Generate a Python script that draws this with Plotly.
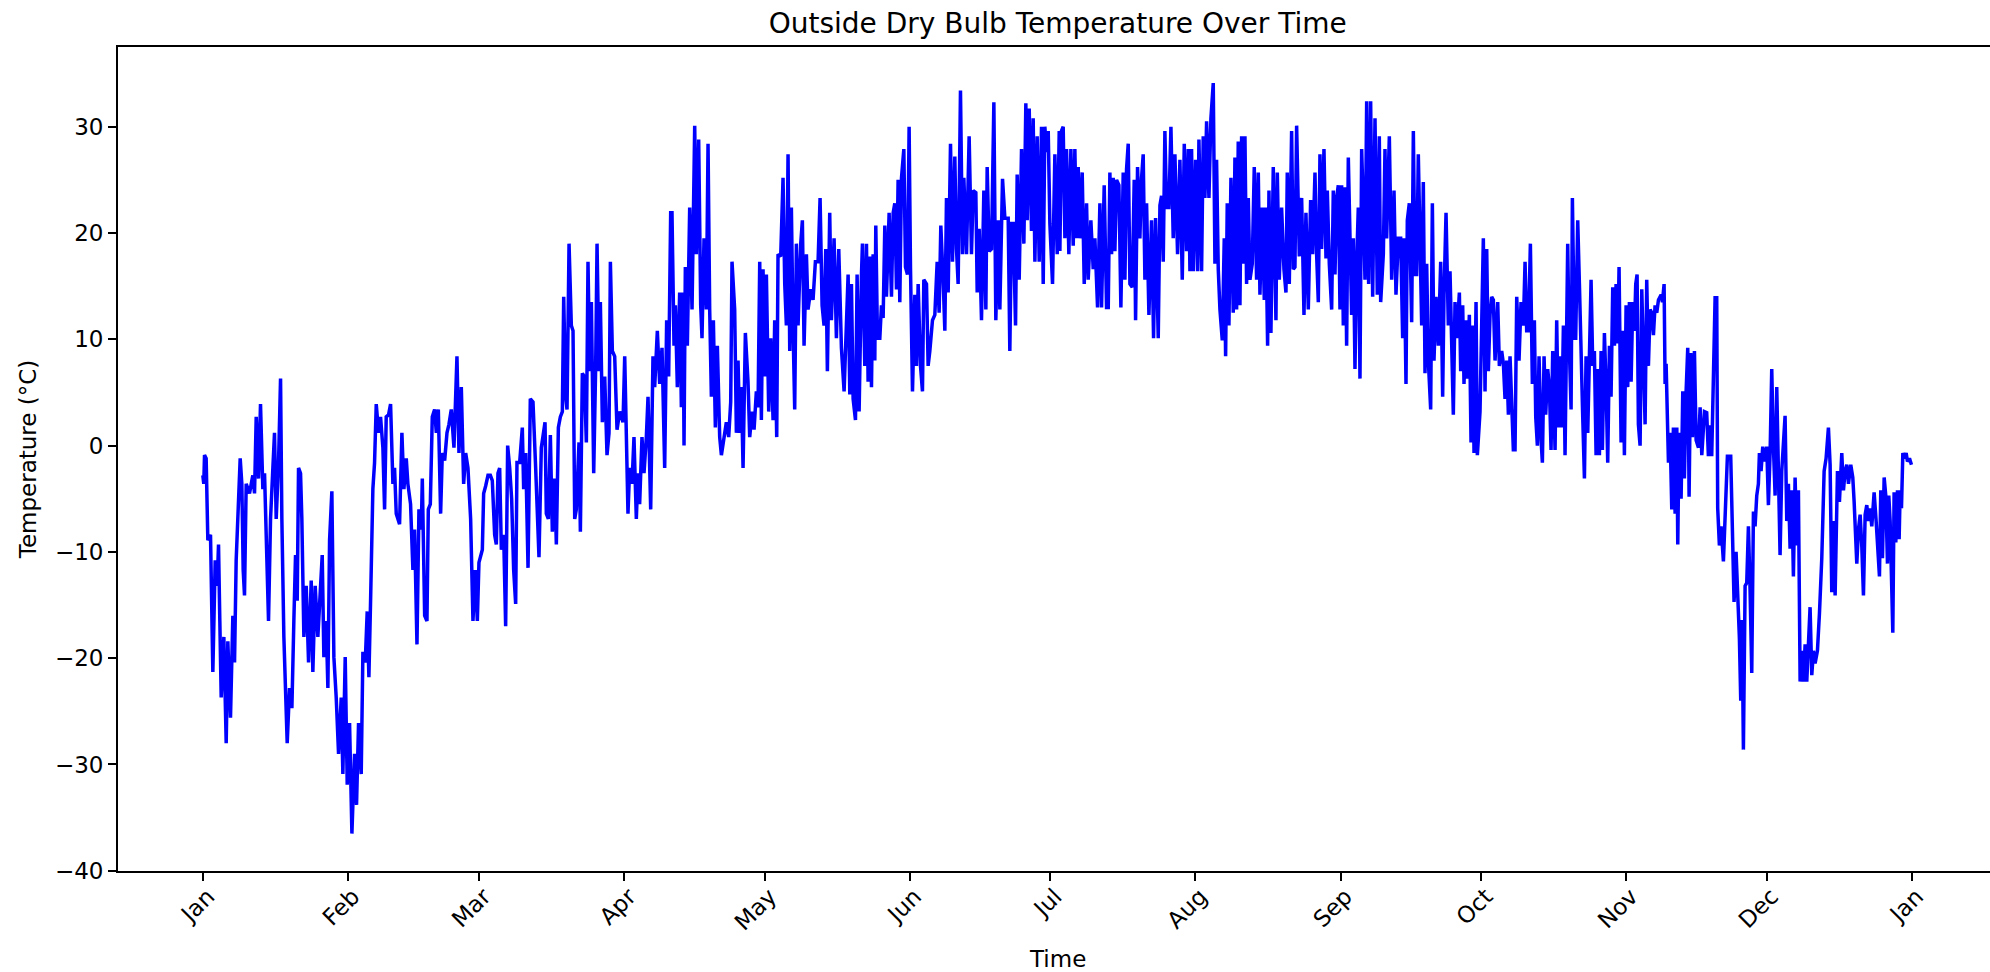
import pandas as pd
import plotly.graph_objects as go

# ---------------- data (day offset from 2023-01-01, temperature in °C) ----------------
YEAR_START = "2023-01-01"

jan_feb_days = [0.0, 0.2, 0.36, 0.71, 1.07, 1.64, 2.14, 2.64, 3.06, 3.35, 3.63, 3.92, 4.49, 4.99, 5.34, 5.91,
                6.41, 6.77, 7.12, 7.48, 7.98, 8.33, 8.62, 8.9, 9.26, 9.97, 10.68, 11.04, 11.4, 11.9, 12.32,
                12.82, 13.18, 14.03, 14.46, 14.96, 15.31, 15.67, 16.17, 16.6, 16.88, 17.31, 18.02, 18.52,
                19.02, 19.44, 19.8, 20.16, 20.44, 20.87, 21.15, 21.58, 22.08, 22.58, 23.15, 23.5, 24.0,
                24.57, 25.14, 25.5, 25.85, 26.35, 26.71, 27.07, 27.56, 27.99, 28.49, 28.99, 29.56, 29.91,
                30.41, 30.84, 31.34, 31.84, 32.41, 32.83, 33.26, 33.83, 34.19, 34.69, 35.11, 35.47, 35.83,
                36.32, 36.68, 37.04, 37.54, 37.96, 38.46, 38.82, 39.17, 39.67, 40.1, 40.6, 40.95, 41.31,
                42.02, 42.52, 42.95, 43.45, 43.8, 44.37, 44.87, 45.23]
jan_feb_temp = [-2.8, -3.6, -0.9, -1.2, -8.9, -8.4, -21.3, -10.8, -13.2, -9.3, -16.5, -23.7, -18, -28, -18.4,
                -25.6, -16, -20.4, -10.8, -6.4, -1.2, -3.6, -11.7, -14.1, -3.6, -4.5, -2.8, -4.5, 2.7, -3.1,
                3.9, -4.1, -2.6, -16.5, -6.9, -2.1, 1.2, -6.9, -1.6, 6.3, -6.9, -18, -28, -22.8, -24.7, -16.5,
                -10.3, -14.6, -2.1, -2.6, -6.9, -18, -13.2, -20.4, -12.7, -21.3, -13.2, -18, -13.6, -10.3,
                -19.9, -16.5, -22.8, -8.9, -4.3, -19.9, -23.7, -29, -23.7, -30.9, -19.9, -31.9, -26.1, -36.5,
                -29, -33.8, -26.1, -30.9, -19.4, -20.4, -15.6, -21.8, -14.6, -4.1, -1.6, 3.9, 1.2, 2.7, -0.2,
                -6, 2.7, 2.9, 3.9, -3.6, -2.1, -6.4, -7.4, 1.2, -4.1, -1.2, -3.6, -5.5, -11.7, -7.9]

feb_mar_days = [45.74, 46.16, 46.66, 46.88, 47.38, 47.87, 48.16, 48.59, 49.01, 49.51, 49.87, 50.3, 50.79, 51.15,
                51.65, 52.15, 52.57, 53.07, 53.64, 54.28, 54.71, 55.21, 55.71, 56.14, 56.63, 57.2, 57.7, 58.2,
                58.63, 58.98, 59.7, 59.98, 60.41, 60.91, 61.41, 61.83, 62.33, 62.69, 63.04, 63.4, 63.76, 64.26,
                64.68, 65.11, 65.54, 65.96, 66.39, 66.82, 67.1, 67.67, 68.24, 68.53, 68.96, 69.46, 69.95,
                70.52, 71.09, 71.8, 72.3, 72.66, 73.09, 73.37, 73.8, 74.23, 74.65, 75.15, 75.51, 75.94, 76.36,
                76.79, 77.08, 77.5, 77.79, 78.22, 78.71, 79.07, 79.43, 79.78, 80.35, 80.64, 81.06, 81.49,
                81.92, 82.27, 82.63, 82.99, 83.49, 83.91, 84.2, 84.63, 84.91, 85.34, 85.84, 86.33, 86.76,
                87.05, 87.47, 87.97, 88.47, 89.04, 89.75, 90.11]
feb_mar_temp = [-18.7, -6, -7.9, -3.1, -16, -16.5, -6, -5.5, 2.7, 3.4, 1.2, 3.4, -6.4, -0.7, -1.4, 1.2, 2,
                3.4, -0.2, 8.4, -0.7, 5.5, -3.6, -0.7, -2.1, -6.9, -16.5, -11.7, -16.5, -11, -9.8, -4.5, -3.8,
                -2.8, -2.8, -3.3, -8.4, -9.3, -2.6, -2.1, -9.8, -8.4, -17, 0, -2.1, -5, -11.7, -14.9, -1.6,
                -1.6, 1.7, -4.1, -0.7, -11.5, 4.4, 4.1, -2.1, -10.5, -0.2, 0.8, 2.2, -6.4, -6.9, 1, -8.1, -3.1,
                -9.3, 1.7, 2.7, 3.2, 14, 4.6, 3.4, 19, 11.3, 10.8, -6.9, -6, 0.3, -8.1, 6.8, 6.5, 0.3, 17.3, 7,
                13.5, -2.6, 7.5, 19, 7, 13.5, 2.2, 6.5, -0.9, 1.2, 17.3, 8.9, 8.4, 1.5, 3.2, 2.2, 8.4]

apr_may_days = [90.81, 91.17, 91.67, 92.09, 92.59, 92.95, 93.3, 93.8, 94.23, 94.73, 95.09, 95.66, 96.15, 96.51,
                97.08, 97.58, 98.08, 98.65, 99.07, 99.5, 99.93, 100.21, 100.64, 100.93, 101.35, 101.85, 102.21,
                102.56, 102.78, 103.06, 103.49, 103.99, 104.49, 105.06, 105.41, 105.91, 106.34, 106.62, 107.05,
                107.55, 107.91, 108.26, 108.62, 109.05, 109.47, 109.9, 110.4, 110.76, 111.32, 111.82, 112.32,
                112.75, 113.03, 113.6, 113.96, 114.32, 114.67, 115.03, 115.39, 115.88, 116.45, 116.81, 117.31,
                117.74, 118.23, 118.59, 118.95, 119.3, 119.66, 120.01, 120.37, 120.87, 121.3, 121.8, 122.15,
                122.58, 122.86, 123.43, 123.93, 124.29, 124.64, 125.0, 125.36, 125.71, 126.07, 126.42, 126.78,
                127.14, 127.71, 128.06, 128.42, 128.92, 129.27, 129.84, 130.34, 130.84, 131.41, 131.84, 132.27,
                132.69, 133.05, 133.4, 133.9, 134.26, 134.83, 135.33, 135.83, 136.4, 136.97]
apr_may_temp = [-6.4, -2.1, -3.6, 0.8, -6.9, -2.6, -5.5, 0.8, -2.6, 0.8, 4.6, -6, 8.4, 5.5, 10.8, 5.8, 9.2,
                -2.1, 11.8, 6.5, 21.9, 21.9, 9.4, 13.2, 5.5, 14.4, 3.6, 14.4, 0, 16.8, 9.4, 22.4, 12.8, 30.1, 18,
                28.8, 13.2, 10.1, 19.5, 12.8, 28.4, 12.8, 4.6, 11.8, 1.7, 9.4, 0.8, -0.9, 0.8, 2.2, 0.8, 4.1,
                17.3, 12.8, 1.2, 8, 1.2, 5.5, -2.1, 10.6, 6, 0.8, 3.2, 1.5, 5.1, 3.6, 17.3, 2.4, 16.6, 6.5,
                16.1, 3.2, 10.1, 2.4, 11.8, 0.8, 18, 17.8, 25.2, 15.2, 11.3, 27.4, 8.9, 22.4, 11.1, 3.4, 19,
                11.3, 19, 21.2, 9.4, 18, 12.8, 14.7, 13.7, 17.3, 17.3, 23.3, 13.2, 11.3, 18.5, 7, 21.9, 11.8,
                19.5, 10.1, 18.5, 9.2, 5.1]

may_jun_days = [137.47, 137.83, 138.19, 138.54, 138.9, 139.4, 139.75, 140.18, 140.68, 140.89, 141.39, 141.75,
                142.1, 142.46, 142.82, 143.17, 143.53, 143.74, 144.1, 144.6, 144.95, 145.31, 145.67, 146.02,
                146.59, 147.09, 147.45, 147.8, 148.16, 148.51, 148.87, 149.23, 149.73, 150.08, 150.51, 150.86,
                151.15, 151.58, 152.08, 152.43, 152.79, 153.29, 153.71, 154.0, 154.57, 154.92, 155.28, 155.85,
                156.35, 156.85, 157.27, 157.63, 158.13, 158.49, 158.84, 159.2, 159.7, 160.12, 160.62, 160.98,
                161.33, 161.83, 162.26, 162.55, 163.12, 163.68, 164.18, 164.54, 165.11, 165.4, 165.82, 166.32,
                166.82, 167.25, 167.53, 167.96, 168.46, 168.96, 169.38, 169.88, 170.24, 170.81, 171.31, 172.02,
                172.37, 172.73, 173.09, 173.59, 173.94, 174.37, 174.87, 175.37, 175.79, 176.08, 176.51, 177.0,
                177.36, 177.72, 178.21, 178.64, 179.14, 179.5, 179.85, 180.21, 180.57, 180.92, 181.49, 181.99,
                182.49, 182.92]
may_jun_temp = [11.3, 16.1, 4.8, 15.2, 4.4, 2.4, 16.1, 3.2, 16.1, 19, 7.5, 19, 6, 17.8, 5.5, 18, 8, 20.7, 10.1,
                10.1, 13.2, 12, 20.7, 14, 21.9, 14, 21.9, 22.8, 14.7, 25, 13.5, 25.2, 27.9, 16.8, 16.1, 30, 16.8,
                5.1, 14.2, 7.5, 15.2, 7.5, 5.1, 15.6, 15.2, 7.5, 8.9, 11.8, 12.3, 17.3, 12.5, 20.7, 15.6, 10.8,
                23.3, 14.4, 28.4, 17.3, 27.2, 18.5, 15.2, 33.4, 18, 25.2, 18, 29.1, 18, 24, 23.8, 14.4, 20.4,
                11.8, 24, 12.8, 26.2, 18.3, 18.5, 32.3, 11.8, 21.2, 12.8, 25.1, 21.4, 21.4, 8.9, 20.9, 20.9,
                11.3, 25.5, 15.6, 27.9, 19, 32.2, 21.2, 31.7, 20.2, 30.8, 17.3, 29.1, 17.3, 30, 15.2, 30, 27.6,
                29.6, 20.9, 15.2, 27.4, 18, 29.6]

jul_aug_days = [183.06, 183.41, 183.77, 184.13, 184.48, 184.98, 185.41, 185.91, 186.26, 186.62, 186.98, 187.33,
                187.83, 188.26, 188.76, 189.11, 189.68, 190.18, 190.54, 191.11, 191.61, 191.96, 192.53, 193.03,
                193.39, 193.74, 194.1, 194.45, 194.81, 195.17, 195.67, 196.09, 196.59, 196.95, 197.3, 197.66,
                198.02, 198.51, 198.94, 199.23, 199.65, 200.15, 200.51, 200.86, 201.22, 201.58, 202.08, 202.64,
                203.07, 203.5, 204.07, 204.43, 204.78, 205.14, 205.49, 205.85, 206.35, 206.78, 207.27, 207.63,
                208.2, 208.7, 209.2, 209.63, 210.12, 210.48, 210.84, 211.19, 211.55, 212.05, 212.47, 212.76,
                213.33, 213.68, 214.04, 214.4, 214.9, 215.32, 215.82, 216.18, 216.53, 216.89, 217.25, 217.75,
                218.17, 218.46, 218.81, 219.17, 219.6, 220.09, 220.45, 220.81, 221.16, 221.52, 221.88, 222.23,
                222.59, 222.94, 223.3, 223.66, 224.15, 224.58, 225.08, 225.44, 225.79, 226.29, 226.72, 227.0,
                227.43, 227.72, 228.14, 228.64]
jul_aug_temp = [18.3, 29.6, 30, 19.5, 27.9, 18, 27.9, 18.8, 27.9, 19.5, 26.2, 19.5, 25.7, 15.2, 22.8, 15.6, 21.2,
                16.6, 19.5, 13, 22.8, 13, 24.5, 13, 13, 25.7, 18, 25.2, 18.3, 25, 24.5, 13, 25.7, 15.6, 26, 28.4,
                15.2, 14.9, 25, 11.8, 26.2, 19.5, 25.2, 27.4, 15.6, 22.8, 12.3, 21.2, 10.1, 21.4, 10.1, 22.6,
                23.5, 17.3, 29.6, 22.4, 22.4, 30, 19.5, 27.4, 18, 26.9, 15.6, 28.4, 18.3, 27.9, 16.4, 27.9, 16.4,
                26.9, 16.4, 28.8, 16.4, 29.1, 23.3, 30.5, 23.3, 30.8, 34.1, 17.1, 26.9, 16.6, 12.8, 9.9, 19.5,
                8.4, 22.8, 11.3, 25.2, 12.5, 27.1, 12.8, 28.6, 13.2, 29.1, 17.1, 29.1, 15.2, 23.3, 15.6, 17.1,
                26.2, 15.6, 25.7, 14.2, 22.4, 13.7, 22.4, 9.4, 24, 10.6, 26.2]

aug_sep_days = [229.21, 229.5, 229.92, 230.42, 230.92, 231.35, 231.63, 232.06, 232.56, 232.92, 233.27, 233.63,
                234.2, 234.7, 235.2, 235.62, 236.12, 236.62, 237.05, 237.55, 237.9, 238.26, 238.61, 238.97,
                239.47, 239.9, 240.18, 240.61, 241.11, 241.46, 241.82, 242.17, 242.53, 242.89, 243.24, 243.6,
                243.96, 244.31, 244.67, 245.02, 245.38, 245.74, 246.09, 246.45, 246.8, 247.16, 247.52, 247.87,
                248.23, 248.59, 249.01, 249.44, 249.87, 250.37, 250.86, 251.29, 251.58, 252.15, 252.5, 252.86,
                253.43, 253.93, 254.43, 254.85, 255.35, 255.85, 256.28, 256.56, 256.99, 257.27, 257.7, 258.2,
                258.56, 258.91, 259.27, 259.62, 259.98, 260.34, 260.69, 261.05, 261.41, 261.76, 262.26, 262.62,
                262.97, 263.4, 263.9, 264.4, 264.82, 265.11, 265.54, 266.03, 266.39, 266.75, 267.1, 267.46,
                267.82, 268.39, 268.67, 269.1, 269.38, 269.81, 270.1, 270.52, 270.88, 271.23, 271.52, 271.95,
                272.23, 272.8, 273.16, 273.51, 273.87, 274.23, 274.58, 274.94]
aug_sep_temp = [11.8, 25.7, 15.6, 22.4, 16.6, 14.4, 25.7, 15.2, 29.6, 16.6, 16.8, 30.1, 17.8, 23.3, 12.3, 21.9,
                12.8, 23.1, 18, 25.7, 18, 13.5, 27.4, 18.5, 27.9, 17.6, 24, 17.1, 12.8, 24, 16.1, 23.3, 24.5,
                12.8, 24.5, 11.3, 24.3, 9.4, 27.1, 19.5, 12.3, 19.5, 7.2, 17.1, 22.4, 6.3, 27.9, 22.4, 15.6,
                32.4, 15.2, 32.4, 14, 30.8, 14.2, 29.1, 13.5, 18, 27.9, 19.5, 29.1, 15.6, 24, 14.2, 19.5, 19.5,
                10.1, 19.5, 5.8, 21.2, 22.8, 11.6, 29.6, 16.1, 16.1, 27.4, 16.8, 11.3, 24.8, 6.8, 17.1, 8, 3.4,
                22.8, 8, 14, 9.4, 17.3, 4.6, 14.2, 21.9, 11.3, 16.4, 8.4, 2.9, 13.5, 10.1, 14.4, 7, 13.2, 5.8,
                11.8, 6.3, 12.3, 0.3, 11.3, -0.7, 13.5, -0.9, 3.2, 11.3, 19.5, 5.1, 18.5, 7, 12.3]

oct_nov_days = [275.29, 275.65, 276.01, 276.58, 276.93, 277.43, 277.79, 278.14, 278.5, 278.86, 279.21, 279.57,
                279.92, 280.28, 280.64, 281.13, 281.56, 282.06, 282.42, 282.77, 283.13, 283.56, 283.98, 284.41,
                284.7, 285.05, 285.41, 285.84, 286.12, 286.48, 286.83, 287.26, 287.62, 287.97, 288.33, 288.83,
                289.18, 289.54, 289.9, 290.25, 290.61, 290.96, 291.32, 291.53, 291.82, 292.25, 292.53, 292.96,
                293.24, 293.67, 294.03, 294.38, 294.74, 295.1, 295.45, 295.81, 296.16, 296.52, 296.88, 297.23,
                297.59, 297.94, 298.3, 298.66, 298.94, 299.37, 299.73, 300.08, 300.44, 300.79, 301.15, 301.51,
                301.86, 302.22, 302.5, 302.93, 303.29, 303.64, 304.0, 304.35, 304.71, 305.07, 305.42, 305.78,
                306.06, 306.35, 306.63, 306.99, 307.35, 307.7, 308.06, 308.41, 308.77, 309.13, 309.48, 309.84,
                310.19, 310.55, 310.91, 311.48, 311.76, 312.12, 312.33, 312.55, 312.83, 313.05, 313.4, 313.76,
                314.11, 314.47, 314.83, 315.04, 315.32, 315.75, 316.11, 316.46, 316.82, 317.17, 317.46, 317.82,
                318.17, 318.6, 318.96, 319.46, 319.81, 320.17, 320.74]
oct_nov_temp = [14, 13.7, 8, 13.5, 7.5, 8.9, 7.7, 4.4, 8, 2.9, 8.4, 3.2, -0.4, -0.4, 14, 8, 13.5, 11.3, 17.3, 10.8,
                10.8, 19, 5.8, 11.8, 2.7, 0, 8.4, 0.5, -1.6, 8.4, 2.9, 7.2, 5.5, -0.4, 8.9, -0.4, 11.8, 1.7, 8.4,
                1.7, 11.3, -0.9, 8.7, 19, 10.1, 3.4, 23.3, 10.1, 10.1, 21.2, 15.2, 7, 2.7, -3.1, 8.4, 1.2, 7.5,
                15.6, 7.5, 8.9, -0.9, 7.2, -0.9, 8.9, -0.4, 10.6, 5.5, -1.6, 9.4, 4.6, 14.9, 9.4, 15.2, 9.6, 16.8,
                0.3, 10.8, -0.9, 13.2, 5.5, 13.5, 6, 13.5, 10.8, 15.2, 16.1, 2, 0, 14.7, 7.5, 2, 15.6, 7.5, 12.8,
                12.5, 10.4, 13.2, 12.5, 13.7, 14.2, 13.5, 15.2, 5.8, 7.7, 1.2, -1.6, 1.2, -6, 1.7, -6.4, 1.7,
                -9.3, 1.2, -5, 5.1, -3.1, 5.1, 9.2, -4.8, 8.7, 0.8, 8.9, 0.5, -0.2, 3.6, -0.9, 3.2]

nov_dec_days = [321.22, 321.58, 321.94, 322.29, 322.65, 323.01, 323.36, 323.57, 323.93, 324.29, 324.79, 325.14,
                325.64, 326.35, 326.78, 327.06, 327.49, 327.78, 328.2, 328.49, 328.77, 329.06, 329.42, 329.77,
                330.13, 330.48, 330.84, 331.2, 331.55, 331.91, 332.26, 332.48, 332.83, 333.19, 333.69, 334.05,
                334.4, 334.76, 335.11, 335.47, 335.83, 336.18, 336.54, 336.89, 337.25, 337.61, 337.96, 338.32,
                338.67, 339.03, 339.39, 339.74, 340.1, 340.46, 340.81, 341.17, 341.52, 341.88, 342.24, 342.59,
                342.95, 343.3, 343.66, 344.02, 344.37, 344.87, 345.3, 345.8, 346.3, 346.72, 347.22, 347.58,
                347.93, 348.29, 348.65, 349.15, 349.57, 350.07, 350.43, 350.78, 351.14, 351.5, 351.99, 352.42,
                352.71, 352.99, 353.28, 353.63, 353.99, 354.34, 354.7, 355.06, 355.41, 355.77, 356.12, 356.48,
                356.98, 357.41, 357.76, 358.12, 358.4, 358.76, 359.12, 359.47, 359.83, 360.11, 360.4, 360.75,
                360.97, 361.25, 361.61, 361.97, 362.32, 362.54, 362.82, 363.11, 363.46, 363.82, 364.1, 364.53,
                364.95]
nov_dec_temp = [3.1, -1, 1.9, -1, 6.9, 13.9, 13.9, -5.9, -9.4, -7.6, -10.9, -5.9, -1, -1, -9.4, -14.7, -10,
                -13.5, -18.1, -24, -16.4, -28.6, -13.2, -12.9, -7.6, -13.5, -21.4, -6.2, -7.6, -4.7, -3.6, -0.7,
                -2.4, -0.1, -1.5, -0.1, -5.6, -0.7, 7.2, -0.1, -4.7, 5.5, -4.7, -10.3, -2.4, -0.1, 2.8, -7.1,
                -3.6, -9.7, -4.2, -12.3, -3, -9.4, -4.2, -22.2, -19.3, -22.2, -18.7, -22.2, -19.3, -15.2, -21.6,
                -19.3, -20.5, -19.3, -15.8, -10.6, -2.4, -1.2, 1.7, -1.8, -13.8, -7.1, -14.1, -2.4, -5.3, -0.7,
                -4.2, -2.4, -1.8, -3.6, -1.8, -3, -5.3, -8.2, -11.1, -7.9, -6.5, -9.4, -14.1, -6.5, -5.6, -7.1,
                -5.9, -7.6, -4.4, -7.1, -10, -12.3, -4.2, -10.6, -3, -4.7, -11.1, -4.7, -7.1, -12.3, -17.6, -4.4,
                -9.1, -4.2, -8.8, -4.2, -5.9, -0.7, -1.2, -0.7, -1.5, -1.2, -1.8]

month_ticks = pd.date_range("2023-01-01", "2024-01-01", freq="MS")
month_labels = ["Jan", "Feb", "Mar", "Apr", "May", "Jun", "Jul", "Aug", "Sep", "Oct", "Nov", "Dec", "Jan"]
y_ticks = [-40, -30, -20, -10, 0, 10, 20, 30]
y_labels = ["\u221240", "\u221230", "\u221220", "\u221210", "0", "10", "20", "30"]

# ---------------- assemble ----------------
day_offsets = (jan_feb_days + feb_mar_days + apr_may_days + may_jun_days + jul_aug_days
               + aug_sep_days + oct_nov_days + nov_dec_days)
temperatures = (jan_feb_temp + feb_mar_temp + apr_may_temp + may_jun_temp + jul_aug_temp
                + aug_sep_temp + oct_nov_temp + nov_dec_temp)
start = pd.Timestamp(YEAR_START)
times = start + pd.to_timedelta(day_offsets, unit="D")

x_lo = start - pd.Timedelta(days=18.12)
x_hi = start + pd.Timedelta(days=381.73)

FONT = "DejaVu Sans"
W, H = 1990, 972
ML, MT, MB = 118, 47, 101
plot_h = H - MT - MB
plot_w = W - ML

fig = go.Figure()
fig.add_trace(go.Scatter(x=times, y=temperatures, mode="lines",
                         line=dict(color="#0000ff", width=3.5),
                         name="Outside Dry Bulb Temperature", showlegend=False))

fig.update_layout(
    width=W, height=H, autosize=False,
    margin=dict(l=ML, r=0, t=MT, b=MB, pad=0, autoexpand=False),
    paper_bgcolor="white", plot_bgcolor="white",
    font=dict(family=FONT, size=23, color="black"),
    title=dict(text="Outside Dry Bulb Temperature Over Time", font=dict(family=FONT, size=28, color="black"),
               xref="paper", x=0.502, xanchor="center", yref="container", y=0.976, yanchor="middle",
               automargin=False),
    xaxis=dict(type="date", range=[x_lo, x_hi], tickvals=month_ticks, ticktext=month_labels,
               tickangle=-45, ticks="outside", ticklen=8, tickwidth=1.8, tickcolor="black",
               showline=True, linecolor="black", linewidth=1.8, mirror=True, automargin=False,
               showgrid=False, zeroline=False, tickfont=dict(family=FONT, size=23, color="black"),
               ticklabelshift=5, ticklabelstandoff=-7),
    yaxis=dict(range=[-40.02, 37.5], tickvals=y_ticks, ticktext=y_labels,
               ticks="outside", ticklen=8, tickwidth=1.8, tickcolor="black",
               showline=True, linecolor="black", linewidth=1.8, mirror=False, automargin=False,
               showgrid=False, zeroline=False, tickfont=dict(family=FONT, size=23, color="black"),
               title=dict(text="Temperature (°C)", font=dict(family=FONT, size=23, color="black"), standoff=12)),
    annotations=[dict(text="Time", xref="paper", yref="paper",
                      x=(1057.7 - ML) / plot_w, y=-(959 - (H - MB)) / plot_h,
                      xanchor="center", yanchor="middle", showarrow=False,
                      font=dict(family=FONT, size=23, color="black"))],
)

fig.write_html("out.html", config={"displayModeBar": False},
               post_script="document.body.style.margin='0';document.body.style.overflow='hidden';")
